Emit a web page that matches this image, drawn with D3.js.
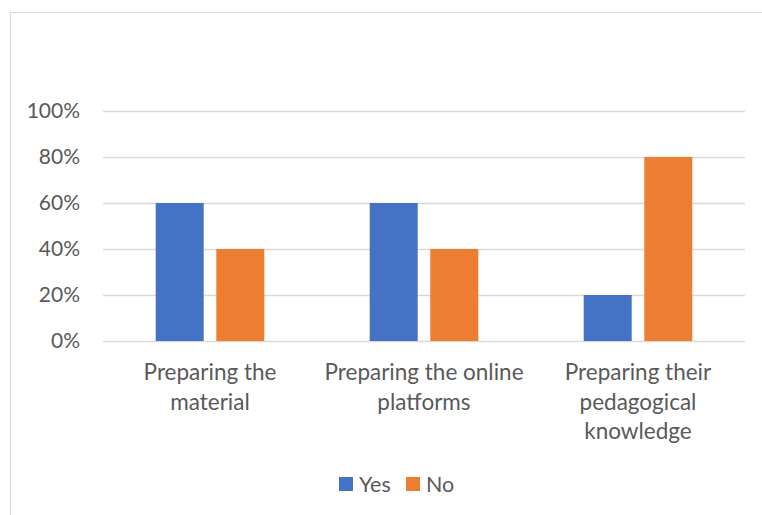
<!DOCTYPE html>
<html>
<head>
<meta charset="utf-8">
<script src="https://cdn.jsdelivr.net/npm/d3@7"></script>
<style>
  html, body { margin: 0; padding: 0; background: #fff; }
  svg { display: block; }
  text { font-family: Lato, "Open Sans", sans-serif; fill: #595959; }
</style>
</head>
<body>
<svg id="chart" width="762" height="515"></svg>
<script>
// Survey answers per preparation area
const categories = [
  ["Preparing the", "material"],
  ["Preparing the online", "platforms"],
  ["Preparing their", "pedagogical", "knowledge"]
];
const seriesNames = ["Yes", "No"];
const yesValues = [0.6, 0.6, 0.2];
const noValues = [0.4, 0.4, 0.8];
const tickValues = [0, 0.2, 0.4, 0.6, 0.8, 1.0];
const colors = ["#4472C4", "#ED7D31"];

const svg = d3.select("#chart");

// outer chart frame (continues past the right and bottom edges)
svg.append("rect")
  .attr("x", 10.5).attr("y", 12.5)
  .attr("width", 800).attr("height", 600)
  .attr("fill", "none").attr("stroke", "#d9d9d9").attr("stroke-width", 1);

const plot = { left: 103, right: 745, top: 111, bottom: 341 };

const x0 = d3.scaleBand()
  .domain(d3.range(categories.length))
  .range([plot.left, plot.right]);

const barW = 48, innerGap = 12.6;

const y = d3.scaleLinear().domain([0, 1]).range([plot.bottom, plot.top]);

// gridlines
svg.append("g")
  .selectAll("line")
  .data(tickValues)
  .join("line")
  .attr("x1", plot.left).attr("x2", plot.right)
  .attr("y1", d => Math.round(y(d)) + 0.5)
  .attr("y2", d => Math.round(y(d)) + 0.5)
  .attr("stroke", "#d9d9d9").attr("stroke-width", 1.3);

// y tick labels
svg.append("g")
  .selectAll("text")
  .data(tickValues)
  .join("text")
  .attr("x", 80)
  .attr("y", d => y(d))
  .attr("dy", "0.35em")
  .attr("text-anchor", "end")
  .attr("font-size", 21)
  .text(d => d3.format(".0%")(d));

// bars
const series = [yesValues, noValues];
series.forEach((vals, s) => {
  svg.append("g")
    .selectAll("rect")
    .data(vals)
    .join("rect")
    .attr("x", (d, i) => {
      const c = x0(i) + x0.bandwidth() / 2;
      return s === 0 ? c - innerGap / 2 - barW : c + innerGap / 2;
    })
    .attr("y", d => y(d))
    .attr("width", barW)
    .attr("height", d => y(0) - y(d))
    .attr("fill", colors[s]);
});

// category labels
const catG = svg.append("g");
categories.forEach((lines, i) => {
  const cx = x0(i) + x0.bandwidth() / 2;
  const t = catG.append("text")
    .attr("x", cx)
    .attr("y", 380)
    .attr("text-anchor", "middle")
    .attr("font-size", 22.5);
  lines.forEach((ln, j) => {
    t.append("tspan")
      .attr("x", cx)
      .attr("dy", j === 0 ? 0 : 29.5)
      .text(ln);
  });
});

// legend
const legend = svg.append("g");
const legendItems = [
  { name: seriesNames[0], color: colors[0], x: 339 },
  { name: seriesNames[1], color: colors[1], x: 406 }
];
legendItems.forEach(it => {
  legend.append("rect")
    .attr("x", it.x).attr("y", 477)
    .attr("width", 14).attr("height", 14)
    .attr("fill", it.color);
  legend.append("text")
    .attr("x", it.x + 20).attr("y", 484)
    .attr("dy", "0.35em")
    .attr("font-size", 21.5)
    .text(it.name);
});
</script>
</body>
</html>
